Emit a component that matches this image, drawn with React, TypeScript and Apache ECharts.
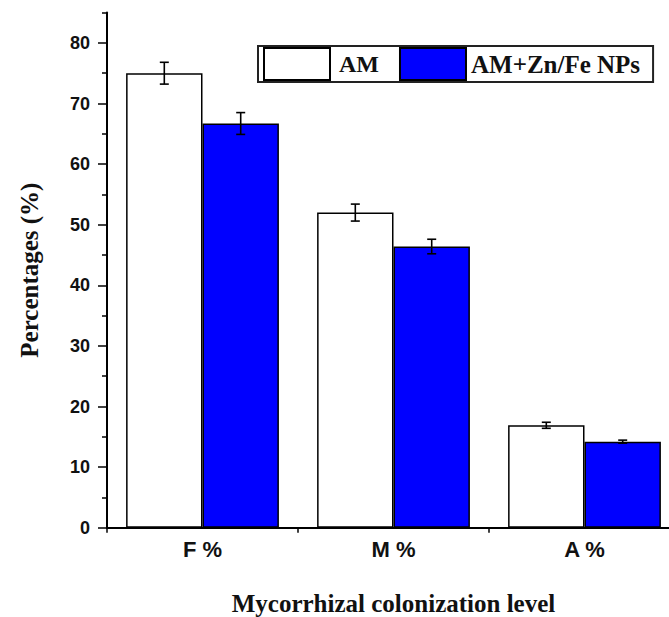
import React, { useEffect, useRef } from "react";
import * as echarts from "echarts";

const categories = ["F %", "M %", "A %"];
const seriesNames = ["AM", "AM+Zn/Fe NPs"];
const amValues = [75.0, 52.0, 16.9];
const amErrors = [1.8, 1.4, 0.5];
const npValues = [66.7, 46.4, 14.2];
const npErrors = [1.8, 1.2, 0.25];
const yTickLabels = [0, 10, 20, 30, 40, 50, 60, 70, 80];
const yMinorTicks = [5, 15, 25, 35, 45, 55, 65, 75, 85];

const SANS = "Liberation Sans";
const SERIF = "Liberation Serif";

export default function App() {
  const ref = useRef<HTMLDivElement>(null);
  useEffect(() => {
    if (!ref.current) return;
    const chart = echarts.init(ref.current, null, { renderer: "svg" });

    const errData = (vals: number[], errs: number[], side: number) =>
      vals.map((v, i) => [i, v, errs[i], side]);

    const renderErr = (params: any, api: any) => {
      const idx = api.value(0);
      const v = api.value(1);
      const e = api.value(2);
      const side = api.value(3);
      const band = api.size([1, 0])[0];
      const base = api.coord([idx, v]);
      const x = base[0] + side * band * 0.2;
      const yTop = api.coord([idx, v + e])[1];
      const yBot = api.coord([idx, v - e])[1];
      const cap = 4.5;
      const style = { stroke: "#000", lineWidth: 1.6 };
      return {
        type: "group",
        children: [
          { type: "line", shape: { x1: x, y1: yTop, x2: x, y2: yBot }, style },
          { type: "line", shape: { x1: x - cap, y1: yTop, x2: x + cap, y2: yTop }, style },
          { type: "line", shape: { x1: x - cap, y1: yBot, x2: x + cap, y2: yBot }, style },
        ],
      };
    };

    chart.setOption({
      animation: false,
      backgroundColor: "#fff",
      grid: {
        left: 107,
        top: 12.6,
        right: -11,
        bottom: 89.3,
        containLabel: false,
        outerBoundsMode: "none",
      },
      legend: {
        left: 258,
        top: 46,
        orient: "horizontal",
        icon: "rect",
        itemWidth: 66,
        itemHeight: 32,
        itemGap: 20,
        padding: [1, 13, 1, 5],
        borderColor: "#222",
        borderWidth: 2,
        itemStyle: { borderColor: "#000", borderWidth: 2 },
        textStyle: { fontFamily: SERIF, fontWeight: "bold", fontSize: 24, color: "#111" },
        data: [
          { name: seriesNames[0], textStyle: { padding: [0, 0, 0, 4] } },
          { name: seriesNames[1], textStyle: { fontSize: 25 } },
        ],
      },
      xAxis: [
        {
          type: "category",
          data: categories,
          axisLine: { lineStyle: { color: "#000", width: 2 } },
          axisTick: { alignWithLabel: true, length: 9, lineStyle: { color: "#000", width: 1.5 } },
          axisLabel: { fontFamily: SANS, fontWeight: "bold", fontSize: 22, color: "#111", margin: 11 },
          name: "Mycorrhizal colonization level",
          nameLocation: "middle",
          nameGap: 63,
          nameTextStyle: { fontFamily: SERIF, fontWeight: "bold", fontSize: 25, color: "#111" },
        },
        {
          type: "category",
          data: categories,
          position: "bottom",
          axisLine: { show: false },
          axisTick: { show: true, length: 5, lineStyle: { color: "#000", width: 1.5 } },
          axisLabel: { show: false },
        },
      ],
      yAxis: [
        {
          type: "value",
          min: 0,
          max: 85,
          splitLine: { show: false },
          axisLine: { show: true, lineStyle: { color: "#000", width: 2 } },
          axisTick: { show: true, length: 9, customValues: yTickLabels, lineStyle: { color: "#000", width: 1.5 } },
          axisLabel: { customValues: yTickLabels, fontFamily: SANS, fontWeight: "bold", fontSize: 18, color: "#111", margin: 17 },
          name: "Percentages (%)",
          nameLocation: "middle",
          nameGap: 65,
          nameTextStyle: { fontFamily: SERIF, fontWeight: "bold", fontSize: 25, color: "#111" },
        },
        {
          type: "value",
          min: 0,
          max: 85,
          position: "left",
          splitLine: { show: false },
          axisLine: { show: false },
          axisTick: { show: true, length: 5, customValues: yMinorTicks, lineStyle: { color: "#000", width: 1.5 } },
          axisLabel: { show: false },
        },
      ],
      series: [
        {
          name: seriesNames[0],
          type: "bar",
          data: amValues,
          barGap: "0%",
          barCategoryGap: "20%",
          itemStyle: { color: "#ffffff", borderColor: "#000", borderWidth: 1.5 },
        },
        {
          name: seriesNames[1],
          type: "bar",
          data: npValues,
          barGap: "0%",
          barCategoryGap: "20%",
          itemStyle: { color: "#0000ff", borderColor: "#000", borderWidth: 1.5 },
        },
        {
          name: "AM error",
          type: "custom",
          renderItem: renderErr,
          data: errData(amValues, amErrors, -1),
          z: 10,
        },
        {
          name: "NP error",
          type: "custom",
          renderItem: renderErr,
          data: errData(npValues, npErrors, 1),
          z: 10,
        },
      ],
    });
    return () => chart.dispose();
  }, []);
  return (
    <div
      ref={ref}
      style={{ position: "fixed", left: 0, top: 0, width: 669, height: 617, background: "#fff" }}
    />
  );
}
